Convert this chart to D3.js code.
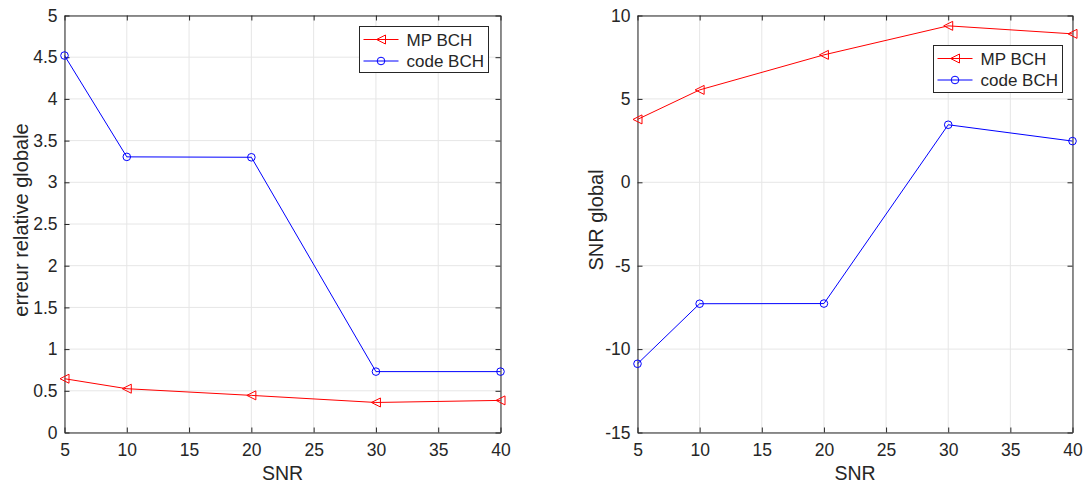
<!DOCTYPE html>
<html><head><meta charset="utf-8">
<script src="https://cdn.jsdelivr.net/npm/d3@7"></script>
<style>
body{margin:0;background:#fff;}
svg text{font-family:"Liberation Sans",Arial,Helvetica,sans-serif;fill:#262626;}
</style></head>
<body><svg id="c" width="1086" height="486"></svg>
<script>
const snr = [5, 10, 20, 30, 40];
const errMP = [0.645, 0.525, 0.445, 0.36, 0.385];
const errCode = [4.52, 3.305, 3.30, 0.73, 0.73];
const snrMP = [3.77, 5.54, 7.64, 9.38, 8.9];
const snrCode = [-10.88, -7.28, -7.27, 3.45, 2.47];
const xTicks = [5, 10, 15, 20, 25, 30, 35, 40];
const yTicksLeft = [0, 0.5, 1, 1.5, 2, 2.5, 3, 3.5, 4, 4.5, 5];
const yTicksRight = [-15, -10, -5, 0, 5, 10];
const seriesNames = ["MP BCH", "code BCH"];

const svg = d3.select("#c");
const axCol = "#262626", gridCol = "#e6e6e6";

function panel(o) {
  const g = svg.append("g");
  const x = d3.scaleLinear().domain([5, 40]).range([o.left, o.right]);
  const y = d3.scaleLinear().domain(o.ydom).range([o.bottom, o.top]);
  // grid
  g.selectAll(".gx").data(xTicks).enter().append("line")
    .attr("x1", d => x(d)).attr("x2", d => x(d)).attr("y1", o.top).attr("y2", o.bottom)
    .attr("stroke", gridCol).attr("stroke-width", 1);
  g.selectAll(".gy").data(o.yticks).enter().append("line")
    .attr("y1", d => y(d)).attr("y2", d => y(d)).attr("x1", o.left).attr("x2", o.right)
    .attr("stroke", gridCol).attr("stroke-width", 1);
  // axes (ticks inward)
  const tl = 5;
  const bx = d3.axisBottom(x).tickValues(xTicks).tickSizeInner(-tl).tickSizeOuter(0).tickPadding(11);
  const by = d3.axisLeft(y).tickValues(o.yticks).tickSizeInner(-tl).tickSizeOuter(0).tickPadding(7).tickFormat(d => String(d));
  const tx = d3.axisTop(x).tickValues(xTicks).tickSizeInner(-tl).tickSizeOuter(0).tickFormat("");
  const ry = d3.axisRight(y).tickValues(o.yticks).tickSizeInner(-tl).tickSizeOuter(0).tickFormat("");
  const style = sel => {
    sel.selectAll("path").attr("stroke", axCol).attr("stroke-width", 1);
    sel.selectAll("line").attr("stroke", axCol).attr("stroke-width", 1);
    sel.selectAll("text").attr("font-size", 17.5).attr("fill", axCol)
      .attr("font-family", '"Liberation Sans",Arial,sans-serif');
  };
  g.append("g").attr("transform", `translate(0,${o.bottom})`).call(bx).call(style);
  g.append("g").attr("transform", `translate(${o.left},0)`).call(by).call(style);
  g.append("g").attr("transform", `translate(0,${o.top})`).call(tx).call(style);
  g.append("g").attr("transform", `translate(${o.right},0)`).call(ry).call(style);
  // labels
  g.append("text").attr("x", (o.left + o.right) / 2).attr("y", 480).attr("text-anchor", "middle")
    .attr("font-size", 19.5).text("SNR");
  g.append("text").attr("transform", `translate(${o.ylabX},${(o.top + o.bottom) / 2 - 4}) rotate(-90)`)
    .attr("text-anchor", "middle").attr("font-size", 20).text(o.ylabel);
  // lines
  const line = d3.line().x((d, i) => x(snr[i])).y(d => y(d));
  const cols = ["#ff0000", "#0000ff"];
  [o.s1, o.s2].forEach((s, k) => {
    g.append("path").datum(s).attr("d", line).attr("fill", "none")
      .attr("stroke", cols[k]).attr("stroke-width", 1);
    s.forEach((v, i) => marker(g, k, x(snr[i]), y(v), cols[k]));
  });
  // legend
  const L = o.legend;
  const lg = g.append("g");
  lg.append("rect").attr("x", L.x).attr("y", L.y).attr("width", L.w).attr("height", L.h)
    .attr("fill", "#fff").attr("stroke", axCol).attr("stroke-width", 1);
  seriesNames.forEach((n, k) => {
    const yy = L.y + 13 + k * 21.5;
    lg.append("line").attr("x1", L.x + 4).attr("x2", L.x + 39).attr("y1", yy).attr("y2", yy)
      .attr("stroke", cols[k]).attr("stroke-width", 1);
    marker(lg, k, L.x + 21.5, yy, cols[k]);
    lg.append("text").attr("x", L.x + 47).attr("y", yy + 6).attr("font-size", 17).attr("fill", "#000").text(n);
  });
}

function marker(g, k, cx, cy, c) {
  if (k === 0) {
    const s = 4.5;
    g.append("path").attr("d", `M${cx - s},${cy} L${cx + s},${cy - s} L${cx + s},${cy + s} Z`)
      .attr("fill", "none").attr("stroke", c).attr("stroke-width", 1);
  } else {
    g.append("circle").attr("cx", cx).attr("cy", cy).attr("r", 3.8)
      .attr("fill", "none").attr("stroke", c).attr("stroke-width", 1);
  }
}

panel({left: 64.5, right: 500.5, top: 15.5, bottom: 432.5, ydom: [0, 5], yticks: yTicksLeft,
  s1: errMP, s2: errCode, ylabel: "erreur relative globale", ylabX: 28,
  legend: {x: 359.5, y: 26.5, w: 129, h: 46}});
panel({left: 637.5, right: 1072.5, top: 15.5, bottom: 432.5, ydom: [-15, 10], yticks: yTicksRight,
  s1: snrMP, s2: snrCode, ylabel: "SNR global", ylabX: 603,
  legend: {x: 933.5, y: 45.5, w: 129, h: 47}});
</script></body></html>
